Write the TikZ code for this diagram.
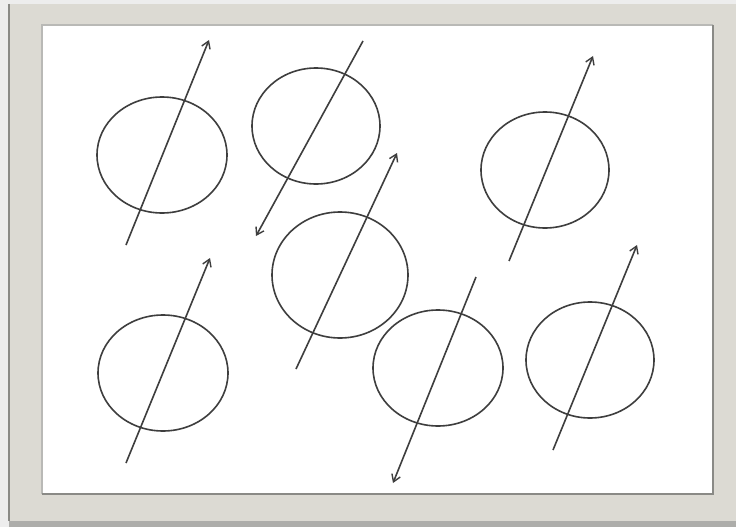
\documentclass[tikz,border=0pt]{standalone}
\definecolor{FrameBeige}{HTML}{DCDAD3}
\definecolor{FrameShade}{HTML}{EDEDED}
\definecolor{FrameEdge}{HTML}{8A8A86}
\definecolor{InkGray}{HTML}{3E3E3E}
\usetikzlibrary{arrows.meta, shapes.geometric, positioning}

\tikzset{
   spin/.style={draw=InkGray, line width=1.6pt, ellipse, inner sep=0pt},
   vec/.style={-{Straight Barb[length=7pt, width=9pt, line width=1.4pt]}, InkGray, line width=1.6pt}
}

\begin{document}
\begin{tikzpicture}[x=1pt, y=-1pt]
            % Frame
            \useasboundingbox (0,0) rectangle (736,527);
            \fill[FrameShade] (0,0) rectangle (736,527);
            \fill[FrameEdge!70] (9,521) rectangle (736,527);
            \fill[FrameBeige] (9,4) rectangle (736,521);
            \draw[FrameEdge, line width=2pt] (9,4) -- (9,521);
            \fill[white] (42,25) rectangle (713,494);
            \draw[FrameEdge!60, line width=1.5pt] (42,494) -- (42,25) -- (713,25);
            \draw[FrameEdge, line width=2pt] (713,25) -- (713,494) -- (42,494);
            % Ellipses
            \node[spin, minimum width=130pt, minimum height=116pt] (e1) at (162,155) {};
            \node[spin, minimum width=128pt, minimum height=116pt] (e2) at (316,126) {};
            \node[spin, minimum width=128pt, minimum height=116pt] (e3) at (545,170) {};
            \node[spin, minimum width=136pt, minimum height=126pt] (e4) at (340,275) {};
            \node[spin, minimum width=130pt, minimum height=116pt] (e5) at (163,373) {};
            \node[spin, minimum width=130pt, minimum height=116pt] (e6) at (438,368) {};
            \node[spin, minimum width=128pt, minimum height=116pt] (e7) at (590,360) {};
            % Arrow end points
            \coordinate (v1s) at (126,245);  \coordinate (v1e) at (209,40);
            \coordinate (v2s) at (363,41);   \coordinate (v2e) at (256,236);
            \coordinate (v3s) at (509,261);  \coordinate (v3e) at (593,56);
            \coordinate (v4s) at (296,369);  \coordinate (v4e) at (397,153);
            \coordinate (v5s) at (126,463);  \coordinate (v5e) at (210,258);
            \coordinate (v6s) at (476,277);  \coordinate (v6e) at (393,483);
            \coordinate (v7s) at (553,450);  \coordinate (v7e) at (637,245);
            % Arrows
            \draw[vec] (v1s) -- (v1e);
            \draw[vec] (v2s) -- (v2e);
            \draw[vec] (v3s) -- (v3e);
            \draw[vec] (v4s) -- (v4e);
            \draw[vec] (v5s) -- (v5e);
            \draw[vec] (v6s) -- (v6e);
            \draw[vec] (v7s) -- (v7e);
         \end{tikzpicture}
\end{document}
